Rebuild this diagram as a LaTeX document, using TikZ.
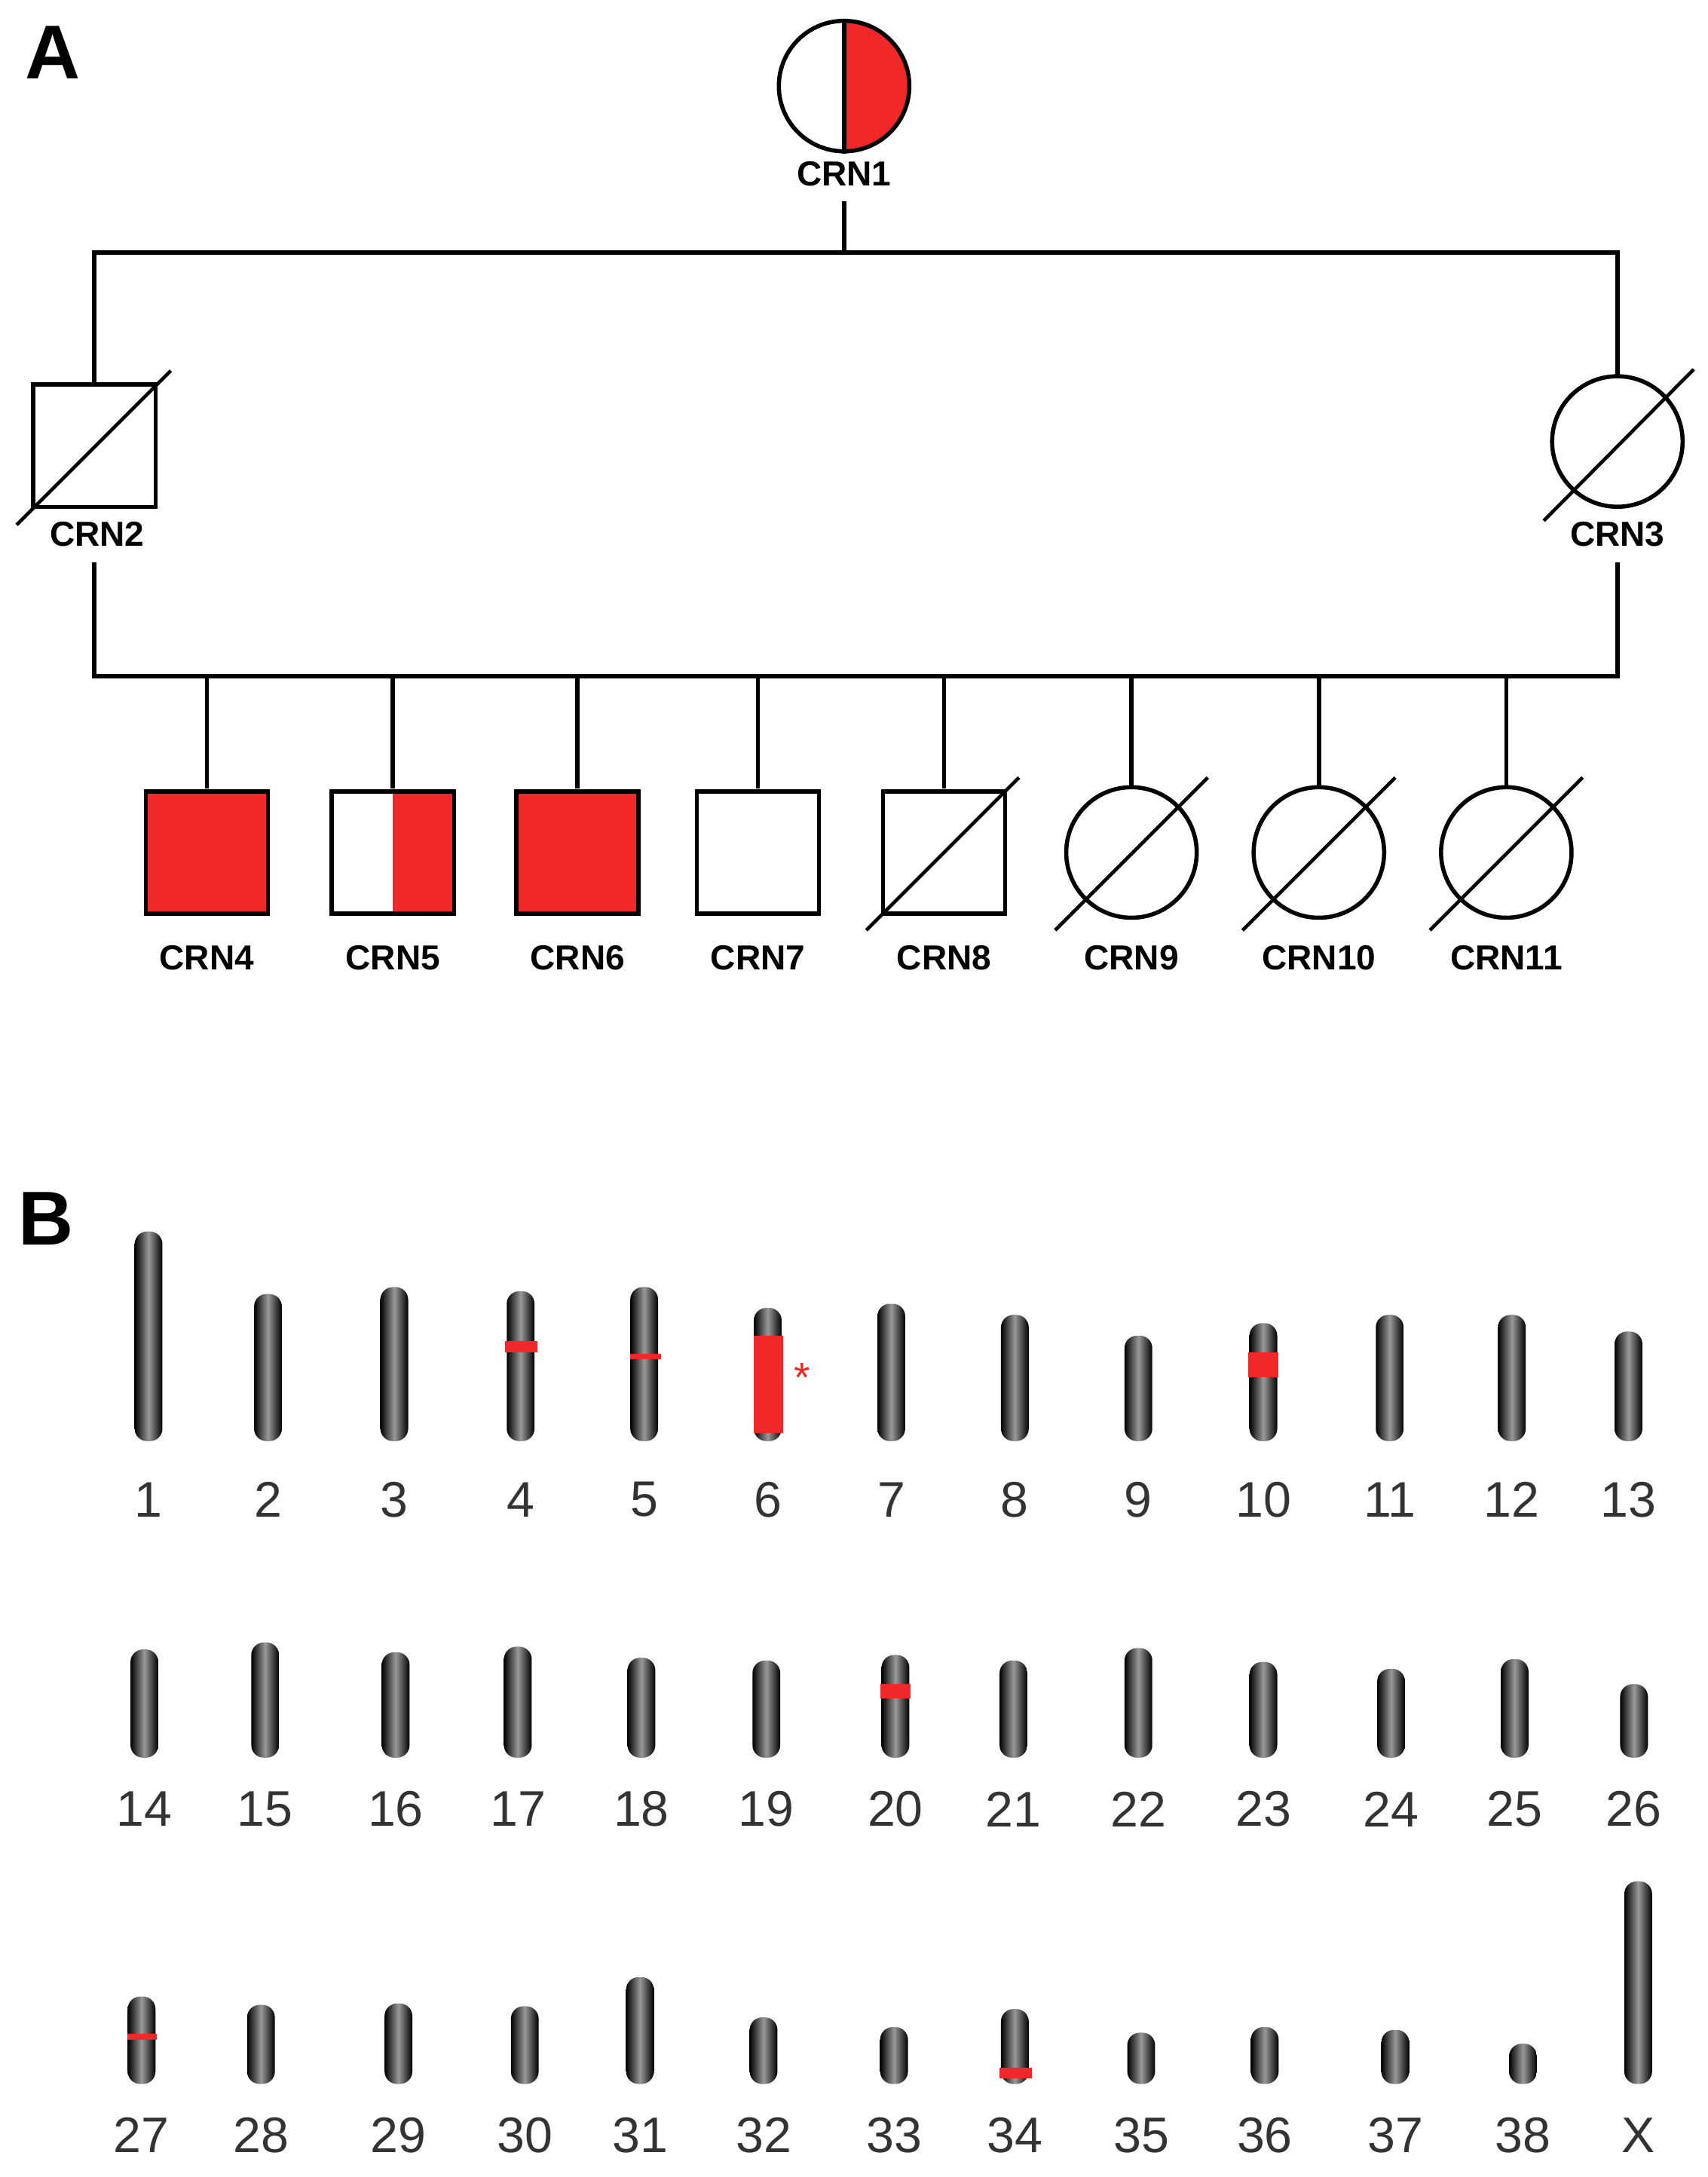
\documentclass[tikz,border=0pt]{standalone}
\usepackage{fontspec}
\setmainfont{Liberation Sans}
\begin{document}
\begin{tikzpicture}[x=1pt,y=-1pt,
  lw/.style={line width=3pt},
  sq/.style={draw,line width=3pt,minimum size=88pt,inner sep=0pt},
  ci/.style={draw,circle,line width=3pt,minimum size=94pt,inner sep=0pt},
  lab/.style={font=\bfseries\fontsize{25}{25}\selectfont},
  num/.style={font=\fontsize{36}{36}\selectfont,text=black!80},
  chrom/.style={rounded corners=9pt,left color=black,right color=black,middle color=black!40}]
\definecolor{pr}{RGB}{240,40,40}
\useasboundingbox (0,0) rectangle (1230,1568);
\fill[white] (0,0) rectangle (1230,1568);
\node[font=\bfseries\fontsize{55}{55}\selectfont] at (38,38) {A};
\node[font=\bfseries\fontsize{55}{55}\selectfont] at (33,878) {B};
% CRN1
\begin{scope}
\clip (608,0) rectangle (700,120);
\fill[pr] (608,62) circle (47);
\end{scope}
\node[ci] (c1) at (608,62) {};
\draw[lw] (c1.north) -- (c1.south);
\node[lab] (l1) at (608,125) {CRN1};
\coordinate (t1) at (608,145);
\coordinate (h1) at (608,182);
\draw[lw] (t1) -- (h1);
\draw[lw] (68,277) -- (68,182) -- (1165,182) -- (1165,271);
% CRN2
\node[sq] (c2) at (68,321) {};
\draw[line width=2.5pt] (12,378) -- (123,267);
\node[lab] (l2) at (70,385) {CRN2};
% CRN3
\node[ci] (c3) at (1165,318) {};
\draw[line width=2.5pt] (1112,375) -- (1220,266);
\node[lab] (l3) at (1165,385) {CRN3};
\draw[lw] (68,405) -- (68,487) -- (1165,487) -- (1165,405);
% children
\foreach \x in {149,283,416,546,680,815,950,1085}{\draw[lw] (\x,487) -- (\x,568);}
\node[sq,fill=pr] (c4) at (149,614) {};
\fill[pr] (283,570) rectangle (326,658);
\node[sq] (c5) at (283,614) {};
\node[sq,fill=pr] (c6) at (416,614) {};
\node[sq] (c7) at (546,614) {};
\node[sq] (c8) at (680,614) {};
\draw[line width=2.5pt] (624,670) -- (734,560);
\foreach \x/\n in {815/c9,950/c10,1085/c11}{
  \node[ci] (\n) at (\x,614) {};
  \draw[line width=2.5pt] (\x-55,670) -- (\x+55,560);}
\foreach \x/\t in {149/4,283/5,416/6,546/7,680/8,815/9,950/10,1085/11}{
  \node[lab] at (\x,690) {CRN\t};}
% chromosomes
\foreach \x/\t/\n in {107/887/1,193/932/2,284/927/3,375/930/4,464/927/5,553/942/6,642/939/7,731/947/8,820/962/9,910/953/10,1001/947/11,1089/947/12,1173/959/13}{
  \shade[chrom] (\x-10,\t) rectangle (\x+10,1038);
  \node[num] at (\x,1080) {\n};}
\foreach \x/\t/\n in {104/1188/14,191/1183/15,285/1190/16,373/1186/17,462/1194/18,552/1196/19,645/1192/20,730/1196/21,820/1187/22,910/1197/23,1002/1202/24,1091/1195/25,1177/1213/26}{
  \shade[chrom] (\x-10,\t) rectangle (\x+10,1266);
  \node[num] at (\x,1303) {\n};}
\foreach \x/\t/\n in {102/1438/27,188/1444/28,287/1443/29,378/1445/30,461/1424/31,550/1453/32,644/1460/33,731/1447/34,822/1464/35,911/1460/36,1005/1462/37,1097/1472/38,1180/1355/X}{
  \shade[chrom] (\x-10,\t) rectangle (\x+10,1501);
  \node[num] at (\x,1538) {\n};}
% red marks
\fill[pr] (364,966) rectangle (387,974);
\fill[pr] (454,975) rectangle (476,979);
\fill[pr] (543,962) rectangle (564,1032);
\node[text=pr,font=\fontsize{30}{30}\selectfont] at (578,992) {*};
\fill[pr] (899,974) rectangle (921,992);
\fill[pr] (634,1213) rectangle (656,1223);
\fill[pr] (92,1465) rectangle (113,1469);
\fill[pr] (720,1489) rectangle (743,1497);
\end{tikzpicture}
\end{document}
